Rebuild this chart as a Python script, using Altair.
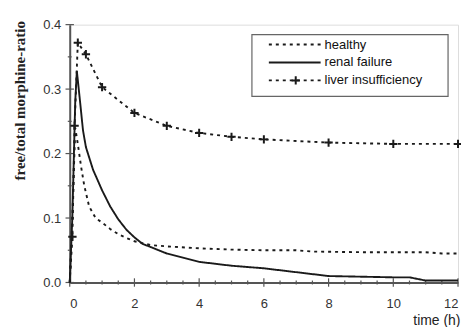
import altair as alt
import pandas as pd

# ---- data ----
t_healthy = [0, 0.08, 0.17, 0.25, 0.35, 0.45, 0.6, 0.8, 1, 1.25, 1.5, 1.75, 2, 2.5, 3, 4, 5, 6, 7, 7.5, 9, 10, 11, 11.5, 12]
v_healthy = [0, 0.10, 0.24, 0.215, 0.18, 0.15, 0.118, 0.10, 0.093, 0.083, 0.075, 0.069, 0.064, 0.058, 0.056, 0.053, 0.051, 0.05, 0.05, 0.048, 0.047, 0.047, 0.047, 0.045, 0.045]

t_renal = [0, 0.08, 0.17, 0.22, 0.3, 0.41, 0.5, 0.72, 1, 1.25, 1.5, 1.75, 2, 2.25, 2.5, 3, 4, 5, 6, 7, 8, 9, 10, 10.5, 11, 12]
v_renal = [0, 0.10, 0.28, 0.328, 0.29, 0.236, 0.21, 0.175, 0.143, 0.118, 0.098, 0.082, 0.07, 0.06, 0.055, 0.045, 0.032, 0.026, 0.022, 0.016, 0.01, 0.009, 0.008, 0.008, 0.003, 0.003]

t_liver = [0, 0.083, 0.15, 0.25, 0.5, 1, 2, 3, 4, 5, 6, 8, 10, 12]
v_liver = [0, 0.071, 0.243, 0.372, 0.354, 0.303, 0.263, 0.243, 0.232, 0.226, 0.222, 0.217, 0.215, 0.215]

series_names = ["healthy", "renal failure", "liver insufficiency"]
x_major = [0, 2, 4, 6, 8, 10, 12]
x_minor = [0.5, 1, 1.5, 2.5, 3, 3.5, 4.5, 5, 5.5, 6.5, 7, 7.5, 8.5, 9, 9.5, 10.5, 11, 11.5]
y_major = [0, 0.1, 0.2, 0.3, 0.4]
y_minor = [0.05, 0.15, 0.25, 0.35]

rows = []
for n, ts, vs in [(series_names[0], t_healthy, v_healthy),
                  (series_names[1], t_renal, v_renal),
                  (series_names[2], t_liver, v_liver)]:
    for t, v in zip(ts, vs):
        rows.append({"t": t, "v": v, "series": n})
df = pd.DataFrame(rows)
df_marks = pd.DataFrame({"t": t_liver[1:], "v": v_liver[1:]})

FONT = "Liberation Sans"
INK = "#1a1a1a"

xs = alt.Scale(domain=[0, 12], nice=False, zero=False)
ys = alt.Scale(domain=[0, 0.4], nice=False, zero=False)

x_axis = alt.Axis(values=x_major, format="d", ticks=False, grid=False,
                  domainColor="#555", domainWidth=2, labelFont=FONT, labelFontSize=13,
                  labelColor="#333", labelPadding=15, title="time (h)",
                  titleFont=FONT, titleFontSize=14, titleFontWeight="normal", titleColor="#222",
                  titleAnchor="end", titleAlign="right", titleX=392, titleY=42,
                  titleBaseline="alphabetic")
y_axis = alt.Axis(values=y_major, format=".1f", ticks=False, grid=False,
                  domainColor="#555", domainWidth=2, labelFont=FONT, labelFontSize=13,
                  labelColor="#333", labelPadding=9, title="free/total morphine-ratio",
                  titleFont="Liberation Serif", titleFontSize=15, titleFontWeight="bold",
                  titleColor="#222", titleX=-50, titleY=76, titleAngle=-90,
                  titleBaseline="middle", titleAlign="center")

base = alt.Chart(df)
lines = base.mark_line(strokeWidth=1.9, color=INK, clip=False).encode(
    x=alt.X("t:Q", scale=xs, axis=x_axis),
    y=alt.Y("v:Q", scale=ys, axis=y_axis),
    detail="series:N",
    strokeDash=alt.StrokeDash("series:N", legend=None,
                              scale=alt.Scale(domain=series_names,
                                              range=[[3, 4], [1, 0], [3, 4]])),
    order="t:Q",
)

plus = "M-1,0L1,0M0,-1L0,1"
marks = alt.Chart(df_marks).mark_point(shape=plus, size=70, filled=False, stroke=INK,
                                       strokeWidth=2, opacity=1).encode(
    x=alt.X("t:Q", scale=xs), y=alt.Y("v:Q", scale=ys))

# axis tick marks crossing the axes
def xticks(vals, half):
    d = pd.DataFrame({"t": vals, "lo": [-half] * len(vals), "hi": [half] * len(vals)})
    return alt.Chart(d).mark_rule(color="#555", strokeWidth=1.2).encode(
        x=alt.X("t:Q", scale=xs), y=alt.Y("lo:Q", scale=ys), y2="hi:Q")

def yticks(vals, half):
    d = pd.DataFrame({"v": vals, "lo": [-half] * len(vals), "hi": [half] * len(vals)})
    return alt.Chart(d).mark_rule(color="#555", strokeWidth=1.2).encode(
        y=alt.Y("v:Q", scale=ys), x=alt.X("lo:Q", scale=xs), x2="hi:Q")

ticks = [xticks(x_major, 0.0065), xticks(x_minor, 0.003),
         yticks(y_major, 0.13), yticks(y_minor, 0.06)]

# legend box
one = pd.DataFrame({"a": [0]})
leg_box = alt.Chart(one).mark_rect(fill="white", stroke="#666", strokeWidth=1.2).encode(
    x=alt.value(183), x2=alt.value(380), y=alt.value(10), y2=alt.value(72))
leg_layers = [leg_box]
leg_y = [20, 38, 56]
dashes = [[3, 4], [1, 0], [3, 4]]
for name, yy, dsh in zip(series_names, leg_y, dashes):
    leg_layers.append(alt.Chart(one).mark_rule(color=INK, strokeWidth=1.9, strokeDash=dsh).encode(
        x=alt.value(200), x2=alt.value(252), y=alt.value(yy)))
    leg_layers.append(alt.Chart(one).mark_text(align="left", baseline="middle", font=FONT,
                                               fontSize=13, color="#111").encode(
        x=alt.value(256), y=alt.value(yy), text=alt.value(name)))
leg_layers.append(alt.Chart(one).mark_point(shape=plus, size=70, filled=False, stroke=INK,
                                            strokeWidth=2, opacity=1).encode(
    x=alt.value(227), y=alt.value(56)))

chart = alt.layer(*ticks, lines, marks, *leg_layers).properties(
    width=390, height=259,
    autosize=alt.AutoSizeParams(type="none"),
    padding={"left": 62, "top": 16, "right": 3, "bottom": 44},
).configure_view(stroke="#888", strokeWidth=1.5).configure(background="white")

chart.save("out.html", embed_options={"renderer": "svg", "actions": False})
